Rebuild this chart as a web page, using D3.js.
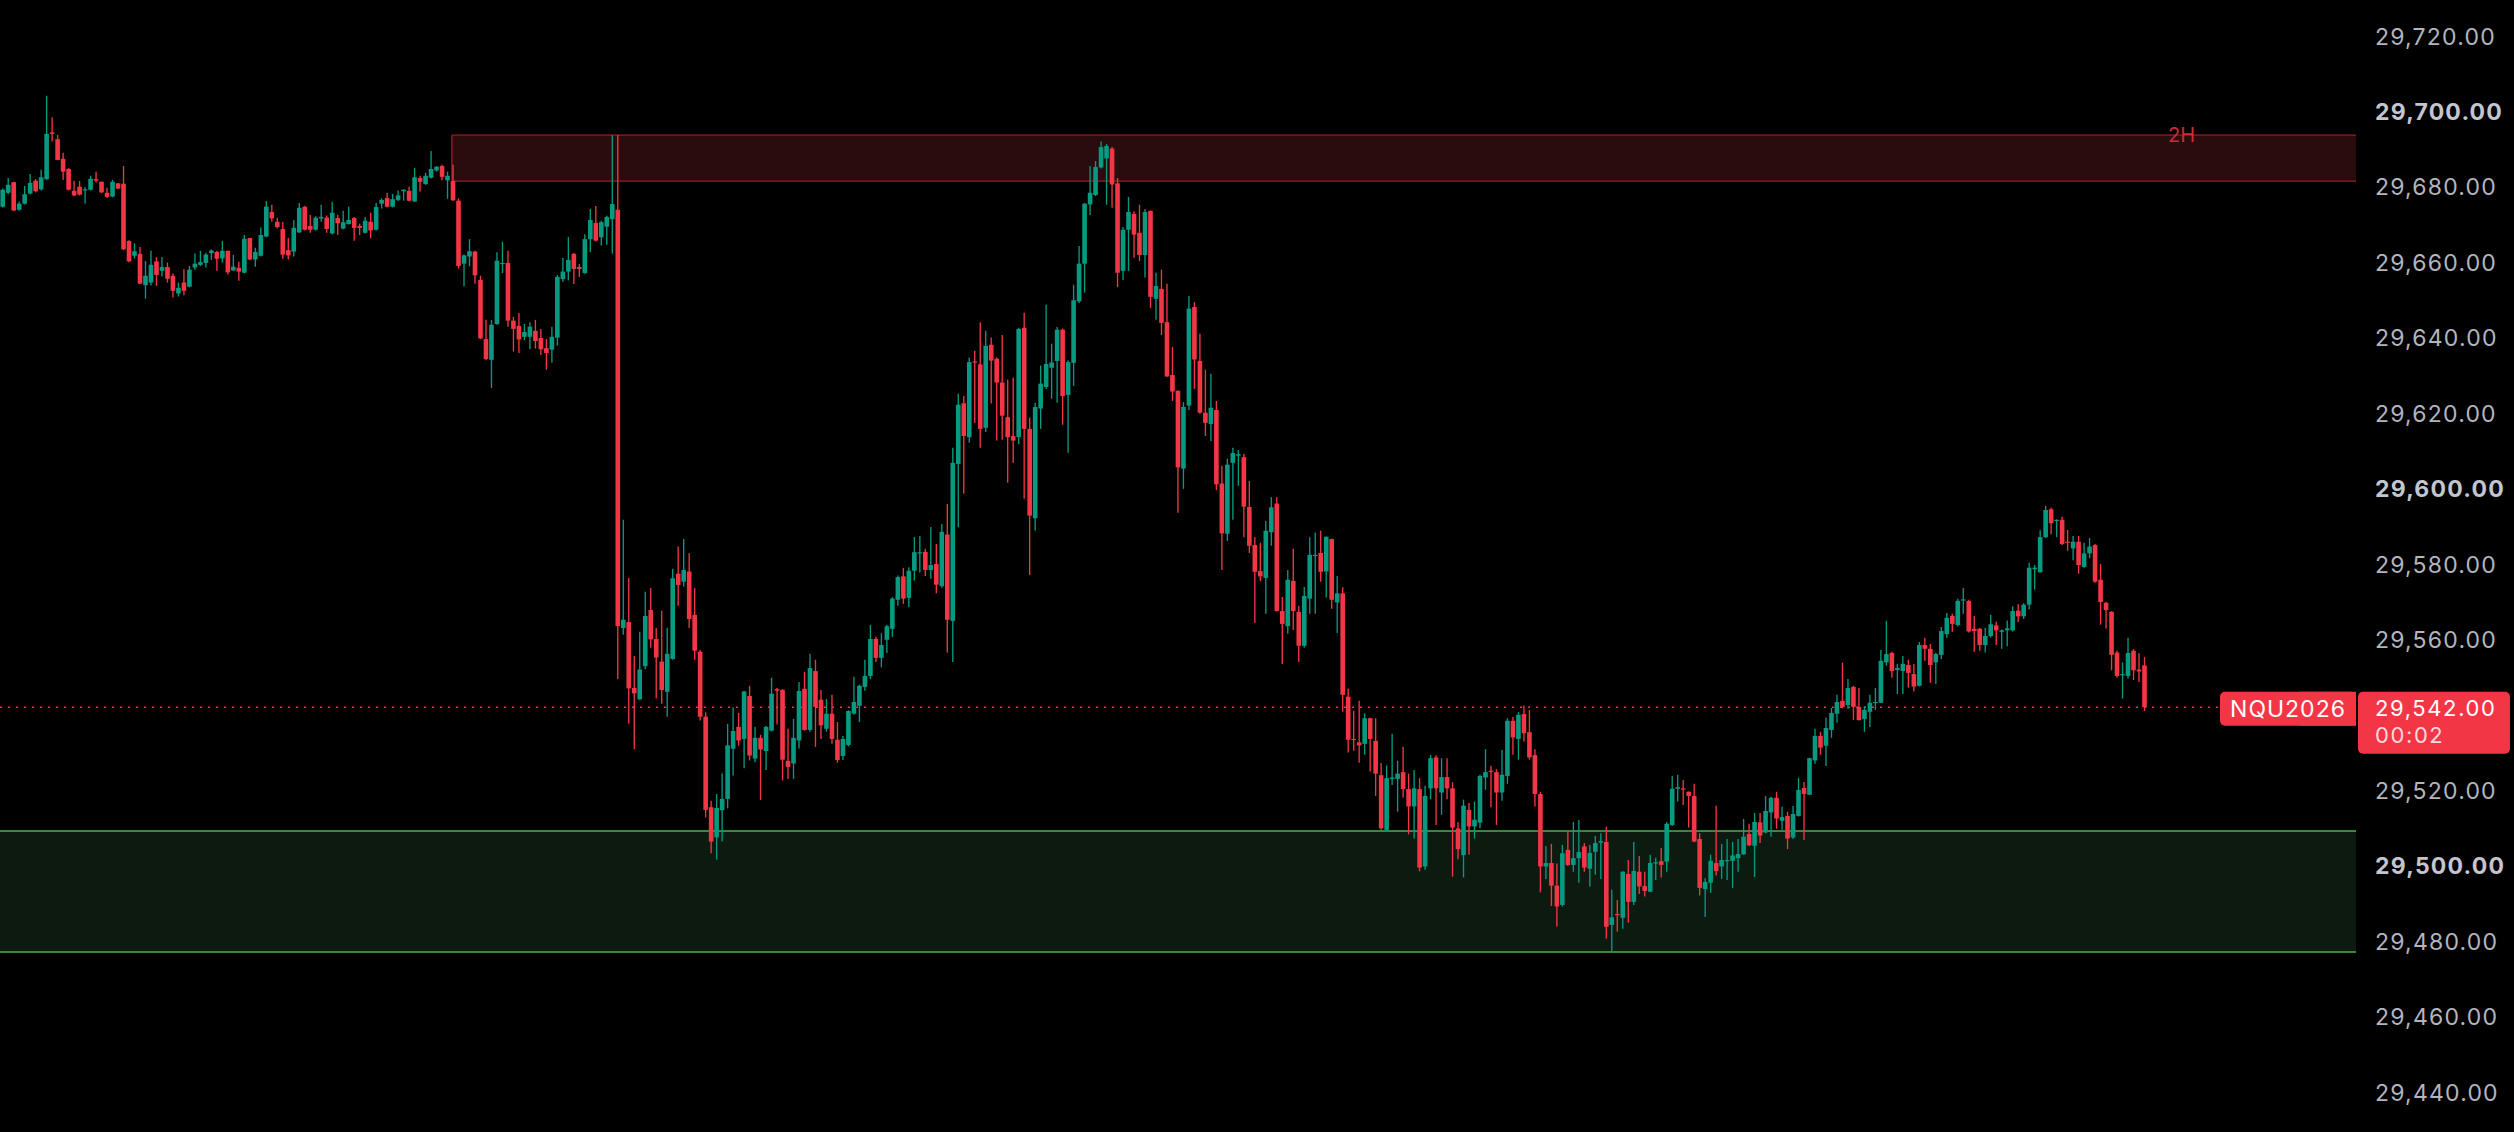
<!DOCTYPE html>
<html><head><meta charset="utf-8">
<script src="https://cdn.jsdelivr.net/npm/d3@7"></script>
<style>
html,body{margin:0;padding:0;background:#000;overflow:hidden}
svg{display:block}
text{font-family:Inter,"Noto Sans",sans-serif}
</style></head><body>
<svg id="chart" width="2514" height="1132"></svg>
<script>
const opens=[29674.7,29678.4,29681.2,29673.9,29675.5,29678.2,29681.6,29679.3,29682.0,29694.4,
29692.6,29687.4,29684.7,29678.9,29680.0,29679.0,29679.2,29682.0,29681.3,29678.4,
29677.4,29680.9,29680.8,29665.6,29661.7,29662.2,29653.9,29654.6,29660.2,29657.7,
29658.7,29656.4,29651.7,29654.6,29653.5,29658.6,29659.3,29659.8,29662.4,29662.7,
29661.0,29663.0,29657.8,29658.5,29657.2,29666.4,29660.7,29661.7,29666.8,29673.3,
29670.7,29668.8,29663.2,29662.8,29667.9,29674.7,29669.6,29668.6,29671.6,29671.8,
29667.6,29671.7,29668.9,29670.1,29671.7,29669.6,29667.8,29670.7,29668.6,29675.5,
29677.0,29674.7,29676.5,29678.8,29678.9,29676.1,29682.3,29680.7,29682.4,29684.3,
29685.5,29681.7,29681.5,29676.3,29659.6,29661.5,29662.8,29655.3,29639.6,29634.1,
29643.6,29659.6,29659.8,29644.5,29643.1,29640.2,29640.2,29641.8,29639.9,29637.2,
29636.8,29640.0,29655.5,29657.5,29662.2,29658.7,29657.1,29666.1,29670.4,29666.6,
29669.4,29671.4,29673.9,29563.0,29564.6,29547.1,29544.1,29552.9,29567.8,29560.1,
29554.1,29546.1,29554.8,29577.4,29575.3,29578.0,29566.5,29556.7,29539.5,29515.5,
29507.5,29514.7,29517.7,29531.0,29536.8,29533.6,29545.0,29528.4,29533.9,29530.4,
29535.8,29546.8,29546.6,29527.8,29527.1,29533.2,29546.9,29536.0,29551.6,29544.0,
29536.3,29540.3,29533.4,29529.1,29532.0,29540.3,29542.4,29547.4,29550.3,29560.1,
29555.1,29559.9,29562.8,29570.5,29576.7,29571.0,29578.2,29582.9,29583.2,29578.4,
29580.0,29574.1,29587.8,29564.9,29606.5,29622.6,29613.6,29633.7,29632.9,29616.1,
29638.1,29634.4,29628.1,29618.9,29613.9,29613.6,29642.6,29615.8,29592.1,29621.2,
29626.9,29632.0,29633.8,29642.1,29624.8,29633.3,29649.6,29659.6,29675.3,29677.8,
29685.1,29687.5,29690.1,29680.9,29657.7,29668.6,29672.8,29667.8,29661.9,29673.6,
29650.3,29652.9,29644.1,29630.1,29625.9,29605.3,29622.0,29648.1,29633.8,29620.1,
29617.1,29620.8,29601.3,29588.0,29606.8,29608.7,29608.3,29595.1,29585.0,29578.1,
29576.3,29588.4,29596.0,29567.5,29563.5,29575.5,29567.3,29558.3,29570.8,29582.1,
29582.9,29578.0,29586.6,29569.8,29572.2,29544.8,29533.6,29532.7,29532.3,29539.1,
29533.1,29524.0,29509.5,29523.0,29523.0,29524.8,29520.3,29515.7,29520.3,29499.8,
29520.5,29528.7,29519.4,29523.5,29520.5,29509.9,29502.8,29514.8,29510.4,29511.4,
29523.4,29525.2,29524.8,29519.4,29523.8,29538.4,29533.6,29540.2,29535.4,29529.3,
29519.0,29499.8,29500.7,29494.7,29489.6,29504.2,29500.2,29502.0,29505.1,29499.2,
29503.7,29506.1,29506.3,29484.3,29487.2,29486.2,29497.8,29490.4,29498.4,29494.6,
29493.1,29500.6,29501.2,29501.1,29510.8,29520.4,29520.5,29519.6,29518.5,29507.1,
29493.8,29495.5,29500.7,29499.8,29501.2,29501.3,29502.0,29503.0,29508.4,29505.3,
29511.5,29508.8,29514.1,29518.0,29511.9,29513.2,29507.5,29513.2,29520.6,29518.8,
29527.9,29534.4,29531.8,29536.0,29540.3,29543.7,29542.6,29547.4,29542.1,29538.9,
29540.8,29543.1,29543.2,29553.9,29556.4,29551.9,29551.6,29553.2,29550.8,29547.7,
29558.5,29557.5,29553.9,29555.9,29561.4,29566.2,29563.8,29570.3,29570.2,29562.8,
29562.8,29558.5,29560.9,29563.7,29562.0,29562.4,29562.4,29567.6,29566.1,29569.2,
29578.6,29577.8,29587.1,29594.5,29591.4,29591.7,29585.9,29584.1,29585.9,29579.2,
29582.8,29585.0,29575.8,29569.7,29567.3,29556.5,29550.5,29550.3,29557.0,29552.0,
29553.1];
const highs=[29679.5,29682.3,29681.3,29676.0,29680.2,29683.4,29682.0,29684.5,29704.1,29698.4,
29693.7,29689.0,29685.0,29681.6,29681.5,29679.9,29682.9,29684.0,29681.4,29679.7,
29681.8,29681.0,29685.5,29665.8,29665.0,29664.0,29660.3,29663.0,29661.3,29661.4,
29659.9,29657.0,29654.6,29658.2,29659.0,29662.3,29663.0,29662.5,29663.4,29663.0,
29665.6,29663.1,29661.9,29660.1,29667.2,29666.5,29663.8,29669.2,29676.2,29675.2,
29671.8,29670.7,29666.4,29671.2,29675.7,29674.9,29672.5,29672.2,29675.2,29672.4,
29676.0,29672.5,29673.6,29674.7,29672.0,29670.2,29672.0,29673.1,29675.7,29676.9,
29678.4,29678.1,29679.0,29679.3,29680.0,29685.0,29682.9,29683.7,29689.5,29685.5,
29685.8,29684.0,29685.8,29676.9,29662.0,29666.1,29663.0,29656.4,29644.7,29644.7,
29662.6,29665.4,29663.0,29645.5,29646.5,29643.6,29644.1,29644.7,29642.3,29639.6,
29642.9,29656.6,29661.1,29666.7,29662.4,29659.5,29667.4,29674.1,29674.9,29671.0,
29672.3,29693.7,29693.7,29591.7,29576.3,29555.6,29562.0,29572.6,29573.6,29563.0,
29567.6,29563.1,29578.7,29584.6,29586.6,29582.8,29573.6,29557.2,29540.7,29517.2,
29519.0,29524.5,29537.6,29542.0,29540.5,29546.3,29547.7,29536.8,29534.7,29537.0,
29549.8,29547.1,29546.8,29536.3,29538.9,29548.7,29551.4,29556.2,29554.6,29546.6,
29544.2,29545.3,29538.1,29534.4,29541.2,29550.1,29548.0,29554.6,29563.8,29560.7,
29561.6,29563.9,29571.2,29576.9,29578.9,29579.1,29587.1,29587.4,29584.0,29589.8,
29585.3,29590.6,29595.9,29610.8,29625.1,29624.5,29634.7,29636.5,29644.1,29641.8,
29640.0,29634.7,29640.7,29628.8,29629.4,29642.6,29646.6,29618.8,29622.7,29632.6,
29648.7,29638.4,29642.8,29642.4,29634.0,29654.0,29664.3,29675.7,29685.5,29686.8,
29692.0,29691.3,29690.5,29682.3,29669.3,29677.3,29673.5,29675.2,29674.1,29673.7,
29657.2,29658.0,29654.3,29637.5,29626.0,29622.9,29651.0,29649.4,29641.0,29631.5,
29630.4,29623.2,29606.0,29607.9,29610.8,29610.2,29609.2,29602.0,29587.1,29585.6,
29591.4,29597.7,29597.7,29571.2,29578.4,29584.0,29568.9,29573.9,29587.1,29588.3,
29588.8,29587.3,29586.7,29576.8,29573.8,29547.0,29541.1,29543.7,29540.4,29539.2,
29539.1,29527.2,29526.6,29535.0,29527.8,29531.5,29524.4,29525.4,29523.2,29521.2,
29529.4,29529.3,29528.5,29528.5,29522.1,29511.5,29517.5,29516.6,29517.0,29524.1,
29530.9,29526.5,29525.6,29530.7,29539.1,29539.4,29540.7,29542.5,29541.3,29530.9,
29519.6,29505.2,29505.8,29500.6,29505.5,29509.0,29511.6,29512.1,29506.0,29505.5,
29507.9,29508.6,29510.3,29493.6,29490.9,29498.5,29501.5,29506.3,29502.6,29498.4,
29502.9,29502.1,29504.7,29511.6,29523.8,29524.1,29522.7,29519.7,29521.7,29508.6,
29496.7,29502.9,29515.9,29505.8,29507.1,29506.3,29507.1,29512.4,29511.1,29514.0,
29514.0,29518.5,29518.3,29519.6,29515.6,29514.3,29515.8,29523.3,29522.2,29528.6,
29536.3,29535.5,29539.2,29541.8,29545.3,29553.8,29549.5,29547.7,29547.1,29542.3,
29545.3,29547.1,29557.2,29564.9,29556.7,29553.5,29555.6,29554.6,29553.5,29559.3,
29560.4,29558.8,29556.4,29563.3,29567.0,29566.8,29570.8,29573.6,29570.5,29566.2,
29563.0,29563.0,29566.5,29564.7,29562.6,29565.0,29568.8,29569.4,29569.6,29580.3,
29579.7,29588.9,29595.4,29594.9,29591.8,29592.5,29589.0,29587.4,29587.4,29585.6,
29586.9,29585.3,29580.0,29569.9,29567.5,29557.0,29553.9,29560.4,29557.4,29556.3,
29555.3];
const lows=[29674.5,29678.0,29673.5,29673.6,29675.3,29678.0,29678.5,29679.0,29681.8,29692.0,
29687.0,29681.8,29679.0,29677.5,29677.7,29675.5,29679.0,29681.1,29678.3,29677.0,
29677.2,29679.4,29663.2,29660.0,29661.0,29654.2,29650.3,29653.8,29653.7,29656.2,
29654.6,29650.6,29650.9,29651.2,29653.3,29658.0,29659.0,29658.6,29660.6,29657.7,
29659.9,29656.7,29657.7,29655.1,29657.0,29660.5,29658.8,29661.5,29666.6,29670.7,
29669.0,29660.9,29660.7,29661.5,29667.7,29668.4,29667.8,29668.4,29670.7,29667.8,
29667.4,29667.2,29668.7,29670.0,29665.7,29667.2,29667.6,29666.3,29668.4,29674.2,
29674.5,29674.5,29676.2,29676.3,29676.1,29675.9,29678.7,29680.5,29682.2,29684.0,
29681.7,29676.8,29676.2,29658.3,29653.6,29658.9,29654.3,29639.6,29634.0,29626.6,
29643.4,29657.1,29642.9,29636.3,29635.9,29639.3,29636.9,29637.1,29635.4,29631.5,
29633.3,29637.9,29654.8,29655.2,29654.2,29656.1,29656.9,29662.6,29665.5,29664.4,
29664.6,29662.2,29549.5,29561.2,29537.6,29530.9,29544.0,29552.1,29557.8,29544.3,
29542.9,29539.5,29554.6,29568.9,29574.0,29563.0,29554.6,29538.5,29512.8,29503.3,
29501.6,29506.4,29515.2,29523.9,29531.8,29525.8,29527.9,29527.4,29517.4,29525.4,
29535.6,29537.4,29522.6,29523.0,29523.0,29531.1,29535.8,29535.5,29531.5,29533.6,
29535.5,29532.3,29527.3,29528.0,29531.6,29540.0,29538.1,29546.4,29549.5,29554.0,
29552.6,29556.4,29560.6,29568.9,29569.4,29568.6,29575.6,29577.7,29576.8,29576.1,
29572.2,29573.7,29556.5,29554.0,29589.7,29598.6,29612.1,29617.4,29610.8,29615.0,
29622.5,29612.7,29612.9,29601.5,29606.8,29611.8,29597.3,29577.1,29588.8,29615.8,
29626.4,29623.8,29622.7,29616.9,29609.5,29627.2,29649.2,29651.9,29672.5,29677.5,
29684.8,29675.2,29674.4,29653.4,29655.3,29657.7,29661.2,29660.3,29655.9,29647.9,
29644.7,29640.7,29629.6,29623.2,29593.6,29599.9,29620.8,29626.4,29619.8,29613.9,
29612.6,29599.6,29578.4,29586.1,29591.7,29600.7,29587.1,29582.9,29564.4,29575.5,
29566.8,29584.8,29567.4,29553.5,29561.5,29562.5,29554.0,29557.8,29566.8,29566.8,
29575.3,29571.1,29568.1,29561.7,29540.8,29530.0,29530.5,29527.3,29529.4,29525.0,
29518.5,29509.5,29509.0,29521.4,29514.3,29518.1,29508.3,29507.2,29498.5,29498.9,
29517.6,29510.8,29513.5,29517.6,29497.1,29501.7,29496.9,29503.0,29507.2,29509.9,
29520.1,29515.5,29510.8,29517.2,29521.7,29529.4,29528.1,29532.9,29528.1,29515.7,
29492.9,29496.5,29489.3,29483.9,29489.2,29499.9,29498.4,29495.5,29498.4,29494.5,
29497.6,29496.5,29480.6,29477.4,29482.5,29483.3,29484.9,29489.6,29492.5,29491.8,
29493.0,29496.2,29496.9,29498.4,29510.5,29517.0,29516.1,29510.1,29506.2,29492.1,
29486.4,29492.8,29497.4,29496.5,29496.2,29494.1,29498.4,29502.9,29505.2,29497.0,
29506.0,29508.6,29507.7,29509.8,29509.5,29504.4,29507.1,29513.0,29506.8,29518.7,
29527.0,29529.4,29526.4,29533.9,29537.9,29541.7,29541.6,29538.6,29538.5,29535.5,
29536.8,29541.3,29543.1,29553.0,29549.8,29545.5,29545.5,29547.2,29546.2,29547.5,
29554.3,29548.5,29548.2,29554.8,29560.4,29562.0,29563.4,29566.8,29561.8,29556.7,
29557.0,29556.5,29560.5,29558.5,29557.5,29558.2,29562.1,29564.6,29565.4,29568.0,
29573.2,29577.7,29586.9,29587.9,29587.1,29585.0,29583.5,29581.0,29577.4,29579.0,
29581.5,29575.0,29563.9,29562.9,29551.8,29549.8,29544.3,29549.6,29549.2,29548.7,
29541.0];
const closes=[29679.2,29680.5,29673.7,29675.5,29678.0,29681.0,29678.8,29682.5,29694.0,29694.0,
29687.1,29684.0,29679.2,29677.7,29677.9,29679.3,29682.1,29681.6,29678.5,29677.3,
29681.3,29679.5,29663.4,29660.2,29662.9,29654.3,29656.4,29659.3,29656.6,29658.7,
29655.6,29652.4,29653.2,29652.4,29658.0,29659.6,29660.0,29662.0,29663.1,29660.9,
29663.0,29657.3,29658.8,29657.5,29666.2,29660.7,29662.7,29667.2,29674.7,29671.6,
29669.3,29662.0,29661.8,29669.1,29674.4,29668.6,29668.6,29671.8,29672.0,29668.8,
29673.1,29670.3,29670.6,29671.2,29669.1,29669.1,29671.0,29668.4,29674.6,29676.5,
29674.7,29676.7,29677.7,29679.2,29676.3,29682.5,29681.3,29682.9,29684.7,29685.3,
29682.6,29682.9,29676.4,29659.0,29661.8,29662.9,29656.5,29639.8,29634.3,29643.4,
29660.4,29659.8,29644.5,29642.3,29639.5,29641.5,29642.9,29639.1,29636.9,29635.9,
29640.2,29656.1,29657.5,29660.6,29658.2,29658.2,29666.1,29671.2,29665.7,29670.6,
29672.0,29675.4,29563.5,29565.2,29547.0,29545.7,29552.0,29566.2,29560.0,29555.2,
29546.6,29556.2,29576.2,29574.4,29578.4,29565.4,29557.0,29539.5,29514.8,29506.4,
29515.3,29517.7,29531.9,29535.7,29533.2,29546.2,29529.2,29533.9,29530.8,29536.8,
29545.6,29546.4,29528.1,29526.2,29533.9,29546.3,29536.0,29552.4,29542.1,29537.2,
29540.3,29533.6,29528.0,29533.6,29541.0,29543.4,29547.7,29550.3,29560.1,29555.1,
29558.5,29563.5,29570.8,29576.5,29570.8,29578.2,29583.1,29583.1,29578.4,29579.7,
29574.5,29588.5,29565.2,29606.8,29622.2,29613.9,29633.5,29633.4,29615.8,29637.8,
29633.9,29628.1,29619.3,29613.6,29612.7,29642.3,29615.8,29592.8,29621.6,29627.8,
29633.0,29633.4,29642.1,29624.5,29633.5,29649.9,29659.6,29675.5,29678.4,29685.2,
29690.5,29690.8,29680.6,29657.2,29668.6,29673.3,29667.3,29661.9,29673.3,29650.8,
29653.7,29643.9,29629.7,29625.7,29605.6,29621.6,29647.7,29634.2,29620.1,29617.4,
29621.4,29601.1,29588.1,29606.3,29609.4,29609.1,29595.2,29584.8,29577.9,29576.7,
29588.8,29595.0,29567.5,29564.1,29575.8,29567.5,29558.3,29571.5,29582.4,29582.4,
29577.9,29587.2,29570.5,29572.2,29545.3,29533.4,29533.4,29531.9,29539.1,29533.6,
29524.4,29509.9,29523.2,29523.4,29524.4,29520.3,29515.7,29520.5,29499.5,29518.5,
29528.5,29520.5,29523.5,29520.5,29510.1,29504.4,29515.9,29510.4,29512.2,29523.8,
29524.8,29525.0,29519.4,29524.1,29538.4,29534.0,29540.0,29535.1,29528.7,29519.0,
29499.8,29500.7,29494.7,29489.2,29503.3,29500.2,29502.0,29503.6,29499.5,29503.4,
29506.0,29506.5,29483.8,29486.3,29486.9,29498.4,29490.4,29498.6,29494.5,29493.3,
29500.7,29500.9,29500.2,29511.1,29520.4,29520.8,29520.2,29518.5,29506.4,29494.1,
29495.7,29501.3,29498.6,29501.5,29501.5,29502.7,29503.1,29507.7,29505.4,29511.6,
29508.0,29514.5,29518.0,29512.5,29512.9,29507.2,29513.7,29520.1,29519.0,29528.5,
29534.4,29531.3,29536.5,29540.5,29543.4,29542.1,29547.1,29542.1,29538.6,29541.3,
29543.2,29543.4,29554.3,29556.1,29551.6,29552.4,29553.5,29551.1,29547.5,29558.5,
29557.5,29553.2,29556.1,29562.2,29565.7,29564.1,29570.2,29570.6,29562.1,29562.2,
29558.5,29560.9,29564.0,29562.4,29562.4,29562.9,29567.5,29566.1,29569.2,29579.0,
29579.0,29587.1,29594.3,29590.8,29591.7,29585.3,29585.6,29585.9,29579.7,29582.8,
29584.6,29575.3,29569.9,29567.8,29555.9,29550.3,29550.8,29556.4,29551.8,29551.5,
29542.0];

// tick labels visible on the price scale (29,540 is hidden behind the last-price tag)
const priceTicks=[29440,29460,29480,29500,29520,29560,29580,29600,29620,29640,29660,29680,29700,29720];
const boldTicks=[29500,29600,29700];
const lastPrice=29542.00;
const symbolName="NQU2026";
const countdown="00:02";
const supplyZone={top:29693.7,bottom:29681.5,startIndex:81.8,label:"2H"};
const demandZone={top:29509.2,bottom:29477.1,startIndex:-0.5};

// layout
const W=2514,H=1132;
const plotRight=2356;
const axisX=2375;
const UP="#089981",DOWN="#f23645";

const svg=d3.select("#chart");
svg.append("rect").attr("width",W).attr("height",H).attr("fill","#000");

const N=closes.length;
const data=d3.range(N).map(i=>({i,o:opens[i],h:highs[i],l:lows[i],c:closes[i]}));
const x=d3.scaleLinear().domain([0,N-1]).range([2.7,2144.5]);
const y=d3.scaleLinear().domain([29429.4,29729.5]).range([H,0]);
const step=x(1)-x(0);
const bodyW=step*0.84;

// zones
function zone(z,fill,stroke,sw,leftBorder){
  const g=svg.append("g");
  const x0=Math.max(0,x(z.startIndex));
  g.append("rect").attr("x",x0).attr("y",y(z.top)).attr("width",plotRight-x0)
   .attr("height",y(z.bottom)-y(z.top)).attr("fill",fill);
  [z.top,z.bottom].forEach(p=>g.append("line").attr("x1",x0).attr("x2",plotRight)
   .attr("y1",y(p)).attr("y2",y(p)).attr("stroke",stroke).attr("stroke-width",sw));
  if(leftBorder) g.append("line").attr("x1",x0).attr("x2",x0).attr("y1",y(z.top)).attr("y2",y(z.bottom))
   .attr("stroke",stroke).attr("stroke-width",sw);
  return g;
}
zone(demandZone,"#0d1a10","#4caf50",1.6,false);
const sz=zone(supplyZone,"#2a0b0e","#74171d",1.8,true);
sz.append("text").attr("x",plotRight-161).attr("y",y(supplyZone.top)).attr("dy","0.36em")
  .attr("text-anchor","end").attr("fill","#cc2b36").attr("font-size",20).text(supplyZone.label);

// last price dotted line
svg.append("line").attr("x1",0).attr("x2",2220).attr("y1",y(lastPrice)).attr("y2",y(lastPrice))
  .attr("stroke",DOWN).attr("stroke-width",1.3).attr("stroke-dasharray","2,6");

// candles
const cg=svg.append("g");
cg.selectAll("line.wick").data(data).join("line").attr("class","wick")
  .attr("x1",d=>x(d.i)).attr("x2",d=>x(d.i))
  .attr("y1",d=>y(Math.max(d.h,d.o,d.c))).attr("y2",d=>y(Math.min(d.l,d.o,d.c)))
  .attr("stroke",d=>d.c>=d.o?UP:DOWN).attr("stroke-width",1.35);
cg.selectAll("rect.body").data(data).join("rect").attr("class","body")
  .attr("x",d=>x(d.i)-bodyW/2).attr("width",bodyW)
  .attr("y",d=>y(Math.max(d.o,d.c)))
  .attr("height",d=>Math.max(1.2,Math.abs(y(d.o)-y(d.c))))
  .attr("fill",d=>d.c>=d.o?UP:DOWN);

// axis
const axis=d3.axisRight(y).tickValues(priceTicks).tickFormat(d3.format(",.2f")).tickSize(0).tickPadding(0);
const ag=svg.append("g").attr("transform",`translate(${axisX},0)`).call(axis);
ag.select(".domain").remove();
ag.selectAll("text").attr("x",0).attr("dy","0.36em").attr("text-anchor","start")
  .attr("font-family","Inter, 'Noto Sans', sans-serif")
  .attr("font-size",23).attr("letter-spacing","1.2px")
  .attr("font-weight",d=>boldTicks.includes(d)?700:400)
  .attr("fill",d=>boldTicks.includes(d)?"#c3c6ce":"#b2b5be");

// last price labels
const ly=y(lastPrice);
const lg=svg.append("g");
lg.append("rect").attr("x",2220).attr("y",ly-15.5).attr("width",136).attr("height",34).attr("rx",5).attr("fill",DOWN);
lg.append("rect").attr("x",2300).attr("y",ly-15.5).attr("width",56).attr("height",34).attr("fill",DOWN);
lg.append("text").attr("x",2288).attr("y",ly+9.5).attr("text-anchor","middle").attr("fill","#fff")
  .attr("font-size",23).attr("letter-spacing","1px").text(symbolName);
lg.append("rect").attr("x",2358).attr("y",ly-15.5).attr("width",152).attr("height",62).attr("rx",5).attr("fill",DOWN);
lg.append("text").attr("x",axisX).attr("y",ly+8.6).attr("fill","#fff")
  .attr("font-size",22).attr("letter-spacing","1.6px").text(d3.format(",.2f")(lastPrice));
lg.append("text").attr("x",axisX).attr("y",ly+36.2).attr("fill","#ffd9dc")
  .attr("font-size",22).attr("letter-spacing","1.6px").text(countdown);
</script>
</body></html>
